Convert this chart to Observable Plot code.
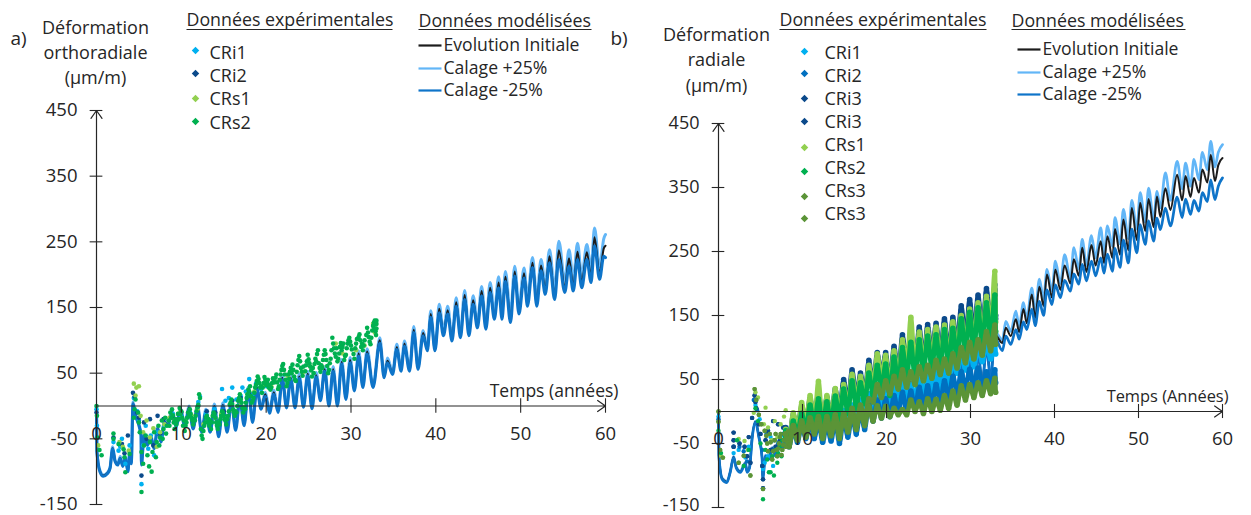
<!DOCTYPE html>
<html lang="fr">
<head>
<meta charset="utf-8">
<script src="https://cdn.jsdelivr.net/npm/d3@7"></script>
<script src="https://cdn.jsdelivr.net/npm/@observablehq/plot@0.6"></script>
<style>
html,body{margin:0;padding:0;background:#fff;}
#page{position:relative;width:1251px;height:515px;overflow:hidden;}
</style>
</head>
<body>
<div id="page"></div>
<script>
// ---- shared axis values and labels
const xTicks = [0,10,20,30,40,50,60];
const yTicks = [-150,-50,50,150,250,350,450];
const expHeader = "Données expérimentales";
const modHeader = "Données modélisées";
const modelLabels = ["Evolution Initiale","Calage +25%","Calage -25%"];
const expLabelsA = ["CRi1","CRi2","CRs1","CRs2"];
const expLabelsB = ["CRi1","CRi2","CRi3","CRi3","CRs1","CRs2","CRs3","CRs3"];
const ylabelA = ["Déformation","orthoradiale","(µm/m)"];
const ylabelB = ["Déformation","radiale","(µm/m)"];

// ---- panel a) model curves (years / µm/m)
const tA = [0,0.05,0.4,0.8,1.3,1.6,1.9,2.2,2.5,2.8,3.1,3.4,3.7,3.9,4.1,4.3,4.6,5.0,5.25,5.3,5.6,6,6.4,6.8,7.2,7.6,8,
8.4,8.9,9.4,9.9,10.4,10.9,11.4,11.9,12.4,12.9,13.4,13.9,14.4,14.9,15.4,15.9,16.4,16.9,17.4,17.9,18.4,18.9,19.4,19.9,20.4,20.9,21.4,21.9,22.4,22.9,23.4,23.9,24.4,24.9,25.4,25.9,26.4,26.9,27.4,27.9,28.4,28.9,29.4,29.9,30.4,30.9,31.4,31.9,
32.6,33.4,33.9,34.3,34.9,35.4,35.9,36.3,36.9,37.4,37.9,38.5,39,39.4,39.9,40.4,40.9,41.4,41.9,42.4,42.9,43.4,43.9,44.4,44.9,45.4,45.9,46.4,46.9,47.4,47.8,48.2,48.8,49.3,49.8,50.4,50.8,51.4,51.9,52.4,52.9,53.4,54,54.5,55.2,55.7,56.2,56.7,57.2,57.8,58.3,58.7,59.3,59.8,60];
const initA = [0,-69,-99,-106,-102,-94,-64,-84,-89,-79,-91,-79,-99,-74,-87,4,-14,-29,-44,-89,-44,-59,-47,-64,-34,-54,-24,
-28,-9,-30,-5,-30,-2,-33,0,-38,-7,-38,0,-45,2,-38,7,-35,12,-28,26,-23,28,-3,18,-9,21,-8,43,-1,43,-1,45,0,49,-2,47,10,56,2,56,2,67,12,70,25,80,30,83,
30,100,45,69,50,90,55,95,55,116,58,111,86,140,86,148,110,146,102,158,107,169,110,161,122,175,120,180,133,188,138,197,133,205,146,202,158,218,158,214,177,228,168,237,181,225,183,235,189,234,198,257,202,240,244];
const plusA = [0,-68,-98,-105,-101,-93,-62,-83,-88,-77,-90,-77,-98,-72,-86,6,-12,-27,-43,-88,-42,-57,-45,-62,-32,-52,-22,
-26,-7,-28,-3,-28,0,-31,2,-36,-5,-36,3,-43,5,-36,10,-33,15,-26,29,-21,31,-1,21,-7,24,-6,47,1,47,1,49,2,53,0,51,12,60,4,60,4,71,14,74,27,84,32,87,
32,104,47,73,52,94,57,99,57,121,60,115,88,145,88,155,113,152,105,165,110,176,113,168,126,182,124,188,142,197,145,205,140,213,152,210,165,226,165,223,185,238,178,251,190,238,192,248,198,246,208,271,212,255,261];
const minusA = [0,-70,-100,-107,-103,-95,-65,-85,-90,-80,-92,-80,-100,-75,-88,3,-15,-30,-45,-90,-45,-60,-48,-65,-35,-55,-25,
-30,-12,-32,-7,-32,-5,-35,-2,-40,-10,-40,-2,-47,0,-40,5,-37,10,-30,23,-25,25,-5,15,-11,18,-10,40,-3,40,-3,42,-2,46,-4,44,8,53,0,53,0,64,10,66,23,76,28,79,
28,96,43,66,48,86,53,91,53,112,56,107,84,135,84,142,107,140,99,152,104,162,107,155,119,168,117,173,132,180,132,190,127,198,140,195,152,211,152,206,170,218,162,223,173,213,175,223,180,223,188,244,193,228,226];

// ---- panel a) measurements [year, µm/m]
const cri1A = [[0,-5],[0.05,-30],[2,-55],[2.6,-68],[2.8,-62],[3,-50],[3.4,-88],[3.9,-60],[4.4,12],[4.8,-8],[5,-22],[5.3,-119],[5.5,-60],[5.8,-30],[6.1,-65],[6.4,-45],[6.8,-75],[7.2,-40],[7.6,-48],[8,-30],[9,-12],[10,-15],[11,-10],[12,6],[12.2,14],[12.9,-12],[13.9,-5],[14.8,26],[15.2,8],[15.6,12],[16,28],[16.5,10],[17,15],[17.2,28],[17.6,22],[18,41],[18.4,18],[18.8,34],[19.4,26],[20,30]];
const cri2A = [[0,-10],[2,-48],[3,-58],[3.3,-72],[3.7,-45],[4.3,20],[4.5,14],[4.8,-10],[5,-18],[5.3,-106],[5.6,-25],[5.9,-50],[6.3,-20],[6.7,-60],[7.2,-15],[7.5,-42],[7.9,-20],[9,-18],[10,-10],[11,-12],[12,0],[13,-8],[14,-10],[15,-8],[16,8],[17,12],[18,20]];
const crs1A = [[0.2,-60],[2.7,-55],[3.1,-62],[3.8,-68],[4.4,34],[4.7,28],[4.6,16],[5,30],[5.2,-15],[5.5,-40],[5.9,-22],[6.3,-48],[6.7,-34],[7.1,-62],[7.5,-40],[8,-28],[8.6,-18],[9.2,-22],[9.8,-10],[10.5,-22],[11.2,-14],[11.9,-5],[12.6,-28],[13.3,-22],[14,-18],[14.7,-12],[15.4,-18],[16.2,-8],[17,5],[17.8,18],[18.6,22],[19.6,30],[20.6,30],[22.6,45],[24.4,52],[25.2,60],[26.6,60],[28.2,95],[29,80],[30.6,85],[31.6,92],[32.6,125],[32.8,112]];
const crs2A = [[0,0],[0.05,-15],[0.1,-48],[0.35,-67],[0.6,-75],[2,-42],[2,-50],[2.6,-58],[3.2,-66],[3.3,-78],[3.4,-101],[3.9,-73],[4.5,-5],[4.6,10],[4.4,-18],[4.9,-10],[5,-25],[5.1,-40],[5.3,-131],[5.3,-70],[5.5,-88],[5.6,-60],[5.8,-45],[6,-75],[6.2,-92],[6.3,-55],[6.5,-100],[6.6,-70],[6.8,-40],[7,-78],[7.1,-55],[7.3,-30],[7.4,-60],[7.5,-48],[7.7,-22],[7.8,-50],[7.9,-35],[8.1,-18],[8.2,-42],[8.3,-30],
[8.5,-22],[8.7,-10],[8.9,-5],[9.1,-25],[9.2,-35],[9.4,-28],[9.6,-12],[9.8,-3],[10,-8],[10.2,-30],[10.4,-38],[10.6,-25],[10.8,-10],[11,-5],[11.2,-18],[11.4,-28],[11.6,-22],[11.8,-8],[12,2],[12.1,18],[12.2,12],[12.3,-35],[12.4,-45],[12.5,-50],[12.7,-30],[12.9,-18],[13.1,-25],[13.3,-30],[13.5,-35],[13.7,-15],[13.9,-12],[14.1,-25],[14.3,-35],[14.5,-28],[14.7,-15],[14.9,-10],[15.1,-20],[15.3,-28],[15.5,-15],[15.7,2],[15.9,10],[16.1,-5],[16.3,-15],[16.5,-10],[16.7,8],[16.9,18],[17.1,5],[17.3,-10],[17.5,-5],[17.7,12],[17.9,25],[18.1,30],[18.3,5],[18.5,12],[18.7,28],[18.9,38],[19.1,41],[19.3,28],[19.5,20],[19.7,35],[19.9,40],[20.1,36],[20.3,28],[20.5,25],[20.7,35],[20.9,38],[21.1,43],[21.3,36],[21.5,30],[21.7,48],[21.9,61],[22.1,55],[22.3,40],[22.5,35],[22.7,41],[22.9,58],[23.1,63],[23.3,45],[23.5,38],[23.7,62],[23.9,76],[24.1,58],[24.3,46],[24.6,53],[24.8,68],[25,71],[25.2,60],[25.4,45],[25.6,50],[25.8,72],[26,79],[26.2,65],[26.4,52],[26.6,58],[26.8,78],[27,79],[27.2,61],[27.4,55],[27.6,72],[27.8,104],[28,88],[28.2,75],[28.4,68],[28.6,80],[28.8,96],[29,90],[29.2,70],[29.4,78],[29.6,95],[29.8,104],[30,92],[30.3,79],[30.5,88],[30.7,102],[31,109],[31.2,90],[31.4,85],[31.6,100],[31.9,119],[32.1,105],[32.3,94],[32.5,115],[32.7,127],[32.8,130],[32.9,114],[33,125],[33,118],
[8.6,-30],[8.8,-18],[9,-14],[9.3,-20],[9.5,-22],[9.7,-20],[9.9,-12],[10.1,-18],[10.3,-22],[10.5,-30],[10.7,-18],[10.9,-15],[11.1,-12],[11.3,-22],[11.5,-20],[11.7,-15],[11.9,-2],[12.6,-38],[12.8,-25],[13,-15],[13.2,-20],[13.4,-22],[13.6,-25],[13.8,-10],[14,-18],[14.2,-30],[14.4,-25],[14.6,-20],[14.8,-8],[15,-15],[15.2,-22],[15.4,-20],[15.6,-8],[15.8,5],[16,3],[16.2,-10],[16.4,-8],[16.6,0],[16.8,12],[17,10],[17.2,-3],[17.4,-2],[17.6,5],[17.8,18],[18,22],[18.2,15],[18.4,8],[18.6,20],[18.8,32],[19,45],[19.2,35],[19.4,30],[19.6,28],[19.8,44],[20,32],[20.2,40],[20.4,32],[20.6,28],[20.8,42],[21,36],[21.2,48],[21.4,26],[21.6,40],[21.8,55],[22,64],[22.2,48],[22.4,30],[22.6,48],[22.8,52],[23,50],[23.2,55],[23.4,40],[23.6,52],[23.8,70],[24,68],[24.2,52],[24.4,60],[24.7,62],[24.9,78],[25.1,65],[25.3,54],[25.5,58],[25.7,64],[25.9,68],[26.1,85],[26.3,58],[26.5,62],[26.7,70],[26.9,85],[27.1,70],[27.3,50],[27.5,65],[27.7,85],[27.9,95],[28.1,80],[28.3,88],[28.5,72],[28.7,90],[28.9,85],[29.1,95],[29.3,76],[29.5,88],[29.7,100],[29.9,98],[30.1,86],[30.4,72],[30.6,95],[30.9,105],[31.1,100],[31.3,95],[31.5,92],[31.8,108],[32,112],[32.2,98],[32.4,104],[32.6,122],[32.75,118],[32.85,124],[32.95,108],[33,130]];

// ---- panel b) model curves
const tB = [0,0.05,0.44,1.0,1.4,1.8,2.1,2.6,3.2,3.4,3.7,4,4.4,4.8,5.2,5.25,5.6,6,6.4,6.8,7.2,7.6,8,
8.4,8.9,9.4,9.9,10.4,10.9,11.4,11.9,12.4,12.9,13.4,13.9,14.4,14.9,15.4,15.9,16.4,16.9,17.4,17.9,18.4,18.9,19.4,19.9,20.4,20.9,21.4,21.9,22.4,22.9,23.4,23.9,24.4,24.9,25.4,25.9,26.4,26.9,27.4,27.9,28.4,28.9,29.4,29.9,30.4,30.9,31.4,31.9,32.4,32.9,
33.8,34.2,34.8,35.4,35.8,36.3,36.7,37.3,37.7,38.2,38.7,39.1,39.7,40.1,40.7,41.2,41.9,42.3,42.9,43.3,43.8,44.4,44.9,45.5,45.9,46.3,46.9,47.2,47.8,48.2,48.8,49.2,49.8,50.2,50.8,51.2,51.8,52.2,52.6,53.2,53.8,54.6,55.2,55.6,56.2,56.6,57.2,57.6,58.2,58.6,59.1,59.5,60];
const initB = [0,-69,-105,-110,-94,-71,-87,-94,-81,-94,-87,-42,-16,-39,-74,-105,-69,-74,-57,-69,-44,-57,-37,
-37,-17,-35,-12,-37,-12,-39,-9,-45,-15,-42,-7,-48,-5,-39,2,-35,9,-27,24,-14,29,-7,26,-4,29,-2,44,3,46,7,52,11,56,11,56,18,64,18,70,25,80,33,85,41,93,45,103,52,120,
107,131,118,144,124,160,138,183,146,195,165,214,178,222,190,228,200,238,212,256,218,260,228,266,232,274,240,285,245,300,252,318,268,326,282,332,288,336,304,349,315,370,330,368,335,365,342,378,358,401,360,385,396];
const plusB = [0,-68,-104,-109,-93,-70,-86,-93,-80,-93,-86,-41,-15,-38,-73,-104,-68,-73,-56,-68,-43,-56,-36,
-35,-14,-33,-9,-35,-9,-37,-6,-43,-12,-40,-4,-46,-2,-37,5,-33,12,-25,27,-12,32,-5,29,-2,33,0,48,5,50,10,56,13,60,13,60,20,68,20,74,27,84,35,90,43,98,47,108,55,125,
112,141,125,157,132,170,145,193,155,207,175,222,188,235,200,245,208,256,222,269,228,275,240,287,245,290,258,303,262,316,270,330,285,342,296,349,300,344,318,373,330,391,348,388,352,394,362,405,378,422,382,405,417];
const minusB = [0,-70,-106,-111,-95,-72,-88,-95,-82,-95,-88,-43,-17,-40,-75,-106,-70,-75,-58,-70,-45,-58,-38,
-40,-20,-38,-15,-40,-15,-42,-12,-48,-18,-45,-10,-51,-8,-42,-2,-38,5,-30,20,-17,25,-10,22,-7,25,-5,40,0,42,5,48,8,52,8,52,15,60,15,65,22,75,30,80,38,88,42,98,50,115,
95,118,105,128,113,140,128,160,134,172,150,190,167,198,178,205,188,215,199,230,204,235,212,240,216,246,219,255,225,268,232,285,248,292,261,298,266,302,284,318,290,335,303,332,308,330,313,342,328,362,331,352,365];

// ---- panel b) measurements: early scattered readings [year, µm/m]
const cri1Be = [[0,-8],[1.8,-65],[2.4,-60],[3.2,-72],[3.6,-55],[4.4,10],[4.9,-12],[5.3,-90],[5.5,-80],[5.9,-70],[6.2,-40],[6.5,-85],[7,-60],[7.4,-52],[7.8,-38]];
const cri2Be = [[0,-12],[1.8,-55],[2.5,-55],[3,-62],[3.4,-78],[4.2,18],[4.6,2],[5.2,-60],[5.7,-35],[6.1,-62],[6.6,-45],[7.1,-50],[7.6,-35]];
const cri3Be = [[1.8,-33],[1.8,-45],[1.8,-55],[2.5,-50],[3.1,-55],[3.4,-70],[3.6,-40],[3.8,-80],[4,-10],[4.3,25],[4.4,15],[4.5,5],[4.8,-20],[5,-35],[5.2,-85],[5.3,-106],[5.3,-120],[5.6,-45],[5.9,-30],[6.2,-60],[6.5,-15],[6.8,-55],[7.1,-20],[7.4,-45],[7.7,-25]];
const crs1Be = [[0.25,-69],[0.55,-72],[2.4,-43],[3.1,-46],[3.5,-60],[4.2,-2],[4.4,30],[4.7,22],[5.6,6],[5.4,-20],[5.9,-25],[6.3,-45],[6.7,-15],[7,-40],[7.4,-20],[7.8,-8],[8,2]];
const crs2Be = [[0,-30],[0.3,-65],[2.2,-45],[3,-85],[3.6,-60],[4.4,5],[4.7,-15],[5,-50],[5.3,-137],[5.6,-60],[6,-95],[6.2,-95],[6.6,-100],[7,-80],[7.3,-55],[7.6,-45],[7.9,-40],[5.8,-75],[6.4,-70],[6.8,-60],[7.1,-65],[7.5,-70]];
const crs3Be = [[0,0],[0,-16],[0.2,-60],[0.5,-72],[2.4,-80],[3,-69],[3.8,-100],[4.3,35],[4.5,18],[4.8,-5],[5.1,-20],[5.3,-121],[5.5,-30],[5.8,-50],[6.1,-35],[6.4,-75],[6.7,-45],[6.9,-60],[7,-70],[7.2,-50],[7.3,-40],[7.5,-68],[7.6,-60],[7.8,-45],[7.9,-35],[8,-55],[5.7,-38],[5.9,-62],[6.2,-48],[6.5,-62],[6.8,-35],[7.1,-58],[7.4,-35],[7.7,-52],[8.2,-42],[8.3,-30],[8.5,-52]];

// ---- panel b) measurements: dense bands, readings at each seasonal low/high
const tBand = [8,8.4,8.9,9.4,9.9,10.4,10.9,11.4,11.9,12.4,12.9,13.4,13.9,14.4,14.9,15.4,15.9,16.4,16.9,17.4,17.9,18.4,18.9,19.4,19.9,20.4,20.9,21.4,21.9,22.4,22.9,23.4,23.9,24.4,24.9,25.4,25.9,26.4,26.9,27.4,27.9,28.4,28.9,29.4,29.9,30.4,30.9,31.4,31.9,32.4,32.9,33];
const cri1Band = [-32,-48,-20,-40,-12,-32,-5,-30,-5,-35,-5,-30,0,-30,2,-22,10,-15,18,-8,28,0,26,5,32,10,38,15,45,20,42,22,50,28,60,30,62,35,72,40,80,60,90,65,97,70,100,78,105,82,107,90];
const cri2Band = [-38,-55,-28,-48,-22,-42,-18,-42,-16,-48,-20,-46,-14,-50,-10,-40,-4,-35,2,-28,12,-15,18,-10,20,-8,25,-3,30,0,32,5,38,8,40,10,42,14,48,20,55,30,62,35,66,38,68,38,62,40,65,45];
const cri3aBand = [-25,-40,-5,-25,8,-15,20,-10,30,-15,22,-10,35,0,50,10,65,20,60,25,80,40,92,55,92,40,102,55,120,70,125,70,132,75,136,85,138,85,145,85,147,100,165,110,175,115,182,120,192,130,198,150];
const cri3bBand = [-28,-42,-10,-28,3,-20,15,-14,25,-18,18,-14,30,-5,44,5,58,15,54,20,72,35,85,48,86,36,96,50,112,64,118,65,125,70,130,78,132,80,138,80,140,94,158,104,168,110,175,114,185,125,190,145];
const crs1Band = [-28,-45,-2,-30,14,-22,25,-18,47,-22,25,-15,36,-8,42,2,58,12,55,20,72,35,90,48,88,35,95,48,112,62,147,62,124,68,128,76,132,76,135,78,140,90,150,100,160,105,170,112,180,125,219,140];
const crs2Band = [-30,-50,-15,-35,-3,-28,10,-22,20,-25,15,-20,24,-12,35,-3,48,5,45,12,60,25,72,35,74,25,85,40,100,50,108,50,112,58,118,65,120,65,128,68,130,78,145,88,155,92,162,100,170,110,182,125];
const crs3aBand = [-35,-50,-22,-42,-15,-35,-10,-30,-8,-38,-8,-32,-5,-35,-3,-25,5,-20,10,-12,20,15,42,22,48,28,55,35,65,38,62,42,70,48,72,52,80,58,82,60,90,68,100,76,108,82,112,88,125,95,135,105];
const crs3bBand = [-35,-55,-25,-45,-18,-40,-15,-35,-12,-42,-15,-38,-10,-42,-8,-32,-2,-28,3,-22,8,-15,9,-10,8,-8,5,-5,3,-5,18,0,15,-3,20,0,19,2,25,5,32,10,40,18,42,22,45,25,48,28,52,30];

// ---- colours
const colBlack="#1c1c1c", colPlus="#62b6f7", colMinus="#0e74c9";
const cSky="#00b0f0", cBlue="#0070c0", cNavy="#0b4a8b", cLime="#92d050", cGreen="#00b050", cOlive="#5b9437";
const ink="#262626";
const font="'Open Sans', sans-serif";

// ---- helpers
const zip=(t,v)=>t.map((d,i)=>({t:d,v:v[i]}));
const pairs=a=>a.map(([t,v])=>({t,v}));
const hbar=half=>({draw(c){c.moveTo(-half,0);c.lineTo(half,0);}});

function panel(cfg){
  const {left,width,mL,mR,mT,mB}=cfg;
  const label=(s,px,py,o={})=>Plot.text([s],{text:d=>d,frameAnchor:"top-left",dx:px-left-mL,dy:py-mT,textAnchor:"start",lineAnchor:"middle",fill:ink,fontSize:17.6,...o});
  const bar=(x1,x2,py,color,w)=>Plot.dot([0],{frameAnchor:"top-left",dx:(x1+x2)/2-left-mL,dy:py-mT,symbol:hbar((x2-x1)/2),r:3,fill:"none",stroke:color,strokeWidth:w});
  const diamond=(px,py,color)=>Plot.dot([0],{frameAnchor:"top-left",dx:px-left-mL,dy:py-mT,symbol:"diamond2",r:3.4,fill:color,stroke:"none"});
  const L=cfg.legend;
  return Plot.plot({
    width,height:515,marginLeft:mL,marginRight:mR,marginTop:mT,marginBottom:mB,
    style:{position:"absolute",left:left+"px",top:"0px",fontFamily:font,background:"transparent",overflow:"visible"},
    x:{domain:[0,60],axis:null},
    y:{domain:[-150,450],axis:null},
    marks:[
      Plot.line(zip(cfg.t,cfg.plus),{x:"t",y:"v",stroke:colPlus,strokeWidth:cfg.lineW,curve:"monotone-x"}),
      Plot.line(zip(cfg.t,cfg.init),{x:"t",y:"v",stroke:colBlack,strokeWidth:2,curve:"monotone-x"}),
      Plot.line(zip(cfg.t,cfg.minus),{x:"t",y:"v",stroke:colMinus,strokeWidth:cfg.lineW,curve:"monotone-x"}),
      ...cfg.series.flatMap(s=>[
        ...(s.band?[Plot.line(zip(tBand,s.band),{x:"t",y:"v",stroke:s.color,strokeWidth:4.6,curve:"monotone-x"}),
                    Plot.dot(zip(tBand,s.band),{x:"t",y:"v",r:2.8,fill:s.color})]:[]),
        Plot.dot(pairs(s.points),{x:"t",y:"v",r:cfg.dotR,fill:s.color})
      ]),
      // axes
      Plot.arrow([{x1:xTicks[0],x2:xTicks[6],y1:0,y2:0}],{x1:"x1",x2:"x2",y1:"y1",y2:"y2",stroke:ink,strokeWidth:1.2,headLength:12,headAngle:70,bend:0}),
      Plot.arrow([{x1:0,x2:0,y1:yTicks[0],y2:yTicks[6]}],{x1:"x1",x2:"x2",y1:"y1",y2:"y2",stroke:ink,strokeWidth:1.2,headLength:12,headAngle:70,bend:0}),
      Plot.ruleX(xTicks.slice(1),{x:d=>d,y1:-11,y2:11,stroke:ink,strokeWidth:1.1}),
      Plot.ruleY(yTicks,{y:d=>d,x1:-0.75,x2:0.75,stroke:ink,strokeWidth:1.1}),
      Plot.text(yTicks.slice(1),{frameAnchor:"left",y:d=>d,dx:-19,dy:cfg.yTickDy,textAnchor:"end",text:d=>String(d),fontSize:cfg.yTickSize,fill:ink}),
      Plot.text(yTicks.slice(0,1),{frameAnchor:"left",y:d=>d,dx:-19,dy:cfg.yBottomDy,textAnchor:"end",text:d=>String(d),fontSize:cfg.yTickSize,fill:ink}),
      Plot.text(xTicks,{x:d=>d,y:0,dy:28,text:d=>String(d),fontSize:18.5,fill:ink}),
      Plot.text([cfg.timeLabel],{x:xTicks[6],y:0,dy:-15,dx:cfg.timeDx,textAnchor:"end",text:d=>d,fontSize:cfg.timeSize,fill:ink}),
      // annotations
      label(cfg.tag,cfg.tagX,38,{fontSize:19}),
      ...cfg.ylabel.map((s,i)=>label(s,cfg.ylabelX,cfg.ylabelY[i],{textAnchor:"middle",fontSize:18})),
      label(expHeader,L.expX,L.headY1,{fontSize:L.headSize}),
      bar(L.expX,L.expX2,L.ruleY,ink,1.2),
      label(modHeader,L.modX,L.headY2,{fontSize:L.headSize}),
      bar(L.modX,L.modX2,L.ruleY,ink,1.2),
      ...cfg.expLabels.flatMap((s,i)=>[
        diamond(L.dotX,L.dotY[i],L.dotC[i]),
        label(s,L.txtX,L.txtY[i],{fontSize:18})
      ]),
      ...modelLabels.flatMap((s,i)=>[
        bar(L.lineX1,L.lineX2,L.lineY[i],[colBlack,colPlus,colMinus][i],2.2),
        label(s,L.lineX2+2,L.lineY[i]+L.lineTxt,{fontSize:17.6})
      ])
    ]
  });
}

const page=document.getElementById("page");
page.append(panel({
  left:0,width:625,mL:96,mR:20,mT:110,mB:11,tag:"a)",tagX:10,timeLabel:"Temps (années)",timeDx:13,timeSize:17.5,
  lineW:3,dotR:2.3,yTickDy:0,yBottomDy:0,yTickSize:18.5,
  t:tA,init:initA,plus:plusA,minus:minusA,
  series:[{points:cri1A,color:cSky},{points:cri2A,color:cNavy},{points:crs1A,color:cLime},{points:crs2A,color:cGreen}],
  ylabel:ylabelA,ylabelX:95,ylabelY:[28,53,78],expLabels:expLabelsA,
  legend:{expX:186,expX2:392,modX:418,modX2:591,headY1:20,headY2:21,ruleY:29,headSize:17.8,
    dotX:195,dotY:[50,73,98,121],dotC:[cSky,cNavy,cLime,cGreen],txtX:209,txtY:[53,76,99,123],
    lineX1:418,lineX2:441,lineY:[45,68,90],lineTxt:0}
}));
page.append(panel({
  left:625,width:626,mL:93,mR:29,mT:123,mB:8,tag:"b)",tagX:610,timeLabel:"Temps (Années)",timeDx:6,timeSize:16.4,
  lineW:2.7,dotR:2.2,yTickDy:0,yBottomDy:-2.5,yTickSize:18,
  t:tB,init:initB,plus:plusB,minus:minusB,
  series:[
    {points:cri1Be,band:cri1Band,color:cSky},{points:cri2Be,band:cri2Band,color:cBlue},
    {points:cri3Be,band:cri3aBand,color:cNavy},{points:cri3Be,band:cri3bBand,color:cNavy},
    {points:crs1Be,band:crs1Band,color:cLime},{points:crs2Be,band:crs2Band,color:cGreen},
    {points:crs3Be,band:crs3aBand,color:cOlive},{points:crs3Be,band:crs3bBand,color:cOlive}
  ],
  ylabel:ylabelB,ylabelX:716,ylabelY:[35,60,86],expLabels:expLabelsB,
  legend:{expX:779,expX2:986,modX:1011,modX2:1185,headY1:20,headY2:21,ruleY:29,headSize:17.8,
    dotX:804,dotY:[51,73,98,121,147,171,196,218],dotC:[cSky,cBlue,cNavy,cNavy,cLime,cGreen,cOlive,cOlive],txtX:824,txtY:[53,76,99,122,145,168,191,214],
    lineX1:1017,lineX2:1040,lineY:[49,72,94],lineTxt:0}
}));
</script>
</body>
</html>
